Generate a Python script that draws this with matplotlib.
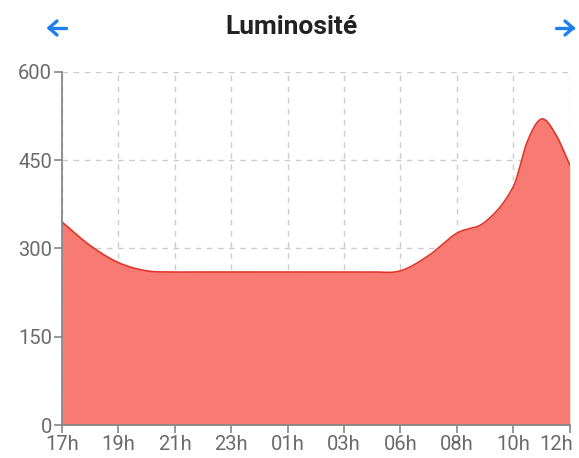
import numpy as np
import matplotlib
matplotlib.use("Agg")
import matplotlib.pyplot as plt
import matplotlib.transforms as mtransforms
from matplotlib.lines import Line2D

hour_labels = ["17h", "19h", "21h", "23h", "01h", "03h", "06h", "08h", "10h", "12h"]
# readings at half-label steps
sample_pos = [0, 0.5, 1, 1.5, 2, 2.5, 3, 3.5, 4, 4.5, 5, 5.5, 6, 6.5, 7, 7.5, 8, 8.25, 8.5, 8.75, 9]
lux = [345, 305, 276, 262, 260, 260, 260, 260, 260, 260, 260, 260, 262, 288, 326, 345, 405, 482, 520, 494, 442]

TITLE = "Luminosité"
FILL = "#f77b72"
LINE = "#e0352b"
GREY = "#888888"
BLUE = "#1e7ff0"


def smooth(xs, ys, n=20):
    # catmull-rom style curve through the readings (like chart.js tension)
    xs = np.asarray(xs, float); ys = np.asarray(ys, float)
    px, py = [], []
    for i in range(len(xs) - 1):
        x0, x1 = xs[max(i - 1, 0)], xs[i]
        x2, x3 = xs[i + 1], xs[min(i + 2, len(xs) - 1)]
        y0, y1 = ys[max(i - 1, 0)], ys[i]
        y2, y3 = ys[i + 1], ys[min(i + 2, len(ys) - 1)]
        m1 = (y2 - y0) / (x2 - x0)
        m2 = (y3 - y1) / (x3 - x1)
        h = x2 - x1
        t = np.linspace(0, 1, n, endpoint=False)
        h00 = 2 * t**3 - 3 * t**2 + 1
        h10 = t**3 - 2 * t**2 + t
        h01 = -2 * t**3 + 3 * t**2
        h11 = t**3 - t**2
        px.append(x1 + t * h)
        py.append(h00 * y1 + h10 * h * m1 + h01 * y2 + h11 * h * m2)
    px.append([xs[-1]]); py.append([ys[-1]])
    return np.concatenate(px), np.concatenate(py)


plt.rcParams["font.family"] = ["Roboto", "DejaVu Sans"]

fig = plt.figure(figsize=(5.79, 4.58), dpi=100)
ax = fig.add_axes([0.107, 0.072, 0.877, 0.771])

sx, sy = smooth(sample_pos, lux)
ax.fill_between(sx, 0, sy, color=FILL, lw=0, zorder=2)
ax.plot(sx, sy, color=LINE, lw=1.2, zorder=3)

ax.set_xlim(0, len(hour_labels) - 1)
ax.set_ylim(0, 600)
ax.set_xticks(range(len(hour_labels)))
ax.set_xticklabels(hour_labels)
ax.set_yticks([0, 150, 300, 450, 600])

ax.grid(True, color="#cccccc", linestyle=(0, (4, 4)), lw=1, zorder=1)
for s in ["top", "right"]:
    ax.spines[s].set_visible(False)
for s in ["left", "bottom"]:
    ax.spines[s].set_color(GREY)
    ax.spines[s].set_linewidth(1.3)
    ax.spines[s].set_zorder(4)
ax.tick_params(colors=GREY, labelcolor="#6a6a6a", labelsize=14.5, length=6, width=1.2, pad=1)

# last label pulled inside the canvas
last = ax.get_xticklabels()[-1]
last.set_horizontalalignment("right")
last.set_transform(last.get_transform() + mtransforms.ScaledTranslation(3 / 100, 0, fig.dpi_scale_trans))

fig.text(0.503, 0.94, TITLE, ha="center", va="center", fontsize=19, fontweight="bold", color="#222222")


def arrow(x0, x1, y):
    # simple nav arrow drawn in pixel coords, head at x0
    W, H = 579, 458
    hx = x0 + (8 if x1 > x0 else -8)
    segs = [((x0, y), (x1, y)), ((x0, y), (hx, y - 7)), ((x0, y), (hx, y + 7))]
    for (a, b) in segs:
        fig.add_artist(Line2D([a[0] / W, b[0] / W], [1 - a[1] / H, 1 - b[1] / H],
                              transform=fig.transFigure, color=BLUE, lw=2.4,
                              solid_capstyle="round", solid_joinstyle="round"))


arrow(49, 66, 28)
arrow(573, 556, 28)

fig.savefig("out.png", dpi=100)
